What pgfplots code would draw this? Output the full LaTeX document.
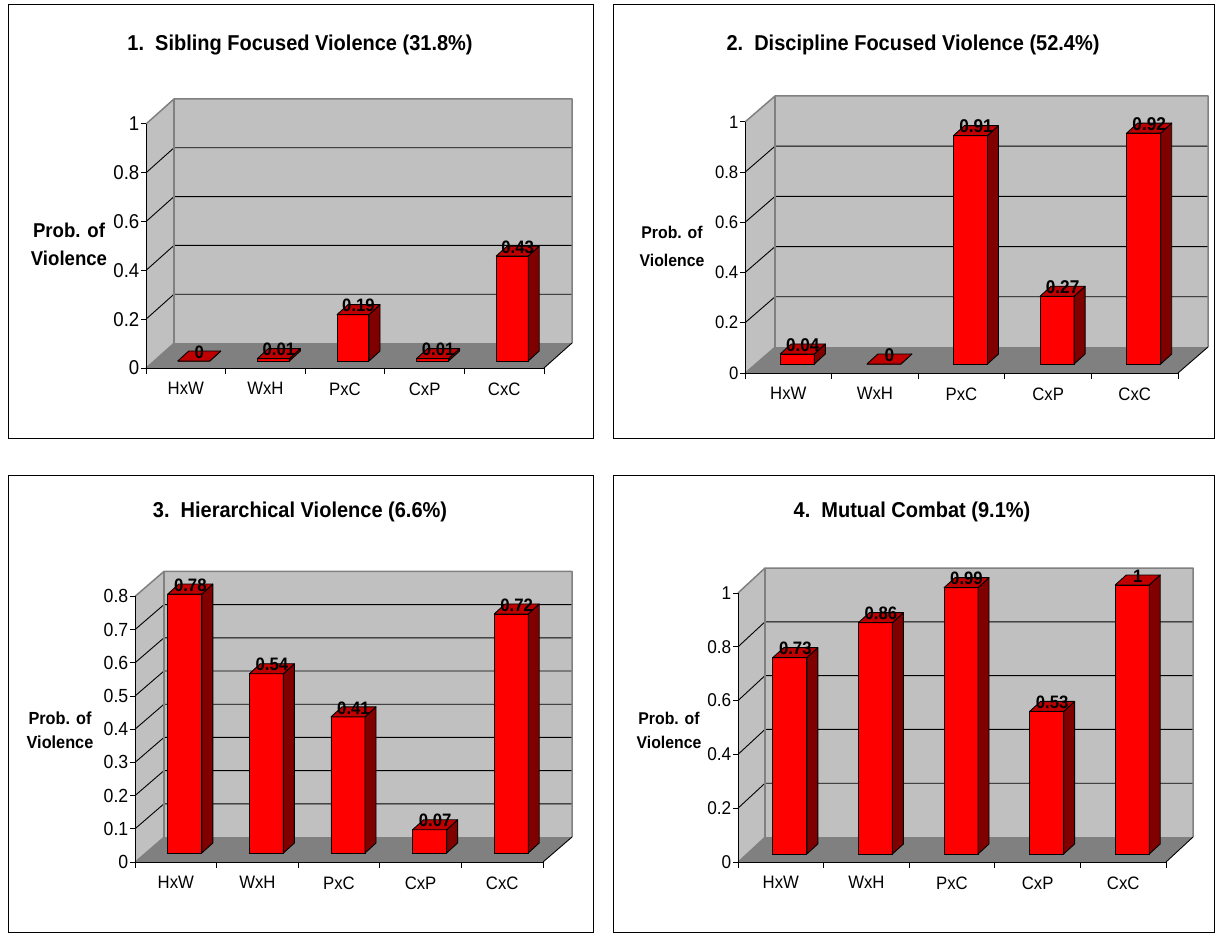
\documentclass[border=0pt]{standalone}
\usepackage{fontspec}
\setmainfont{Liberation Sans}[FakeStretch=0.93]
\usepackage{pgfplots}
\usepackage{pgfplotstable}
\pgfplotsset{compat=1.18}

\definecolor{wallgray}{HTML}{C0C0C0}
\definecolor{floorgray}{HTML}{808080}
\definecolor{edgegray}{HTML}{808080}
\definecolor{barfront}{HTML}{FF0000}
\definecolor{bartop}{HTML}{C00000}
\definecolor{barside}{HTML}{800000}

\newcommand\fs[1]{\fontsize{#1}{#1}\selectfont}

\pgfplotstableread{
x v
0 0
1 0.01
2 0.19
3 0.01
4 0.43
}\tabA
\pgfplotstableread{
x v
0 0.04
1 0
2 0.91
3 0.27
4 0.92
}\tabB
\pgfplotstableread{
x v
0 0.78
1 0.54
2 0.41
3 0.07
4 0.72
}\tabC
\pgfplotstableread{
x v
0 0.73
1 0.86
2 0.99
3 0.53
4 1
}\tabD

\pgfplotsset{
  excel3d/.style={
    anchor=south west,
    xmin=-0.5, xmax=4.5, ymin=0,
    enlargelimits=false,
    clip=false,
    axis on top,
    axis x line*=bottom,
    axis y line*=left,
    axis line style={black, line width=1pt},
    x axis line style={-},
    y axis line style={-},
    xtick={0,1,2,3,4},
    xticklabels={HxW,WxH,PxC,CxP,CxC},
    minor xtick={-0.5,0.5,1.5,2.5,3.5,4.5},
    major x tick style={draw=none},
    minor x tick style={black, line width=1pt},
    y tick style={black, line width=1pt},
    tick align=outside,
    major tick length=5pt,
    minor tick length=6pt,
    xticklabel style={yshift=-6pt, font=\fs{18}},
    yticklabel style={inner sep=1.5pt},
    /pgf/number format/assume math mode=true,
  },
}

\newcommand\walls[1]{%
  \fill[wallgray] (axis cs:-0.5,0) -- ([shift={(\DX,\DY)}]axis cs:-0.5,0)
     -- ([shift={(\DX,\DY)}]axis cs:-0.5,\YM) -- (axis cs:-0.5,\YM) -- cycle;
  \fill[wallgray] ([shift={(\DX,\DY)}]axis cs:-0.5,0) rectangle ([shift={(\DX,\DY)}]axis cs:4.5,\YM);
  \fill[floorgray] (axis cs:-0.5,0) -- (axis cs:4.5,0) -- ([shift={(\DX,\DY)}]axis cs:4.5,0) -- ([shift={(\DX,\DY)}]axis cs:-0.5,0) -- cycle;
  \pgfplotsinvokeforeach{#1}{%
    \draw[black, line width=0.9pt] (axis cs:-0.5,##1) -- ([shift={(\DX,\DY)}]axis cs:-0.5,##1) -- ([shift={(\DX,\DY)}]axis cs:4.5,##1);
  }
  \draw[edgegray, line width=1.5pt, line join=round] (axis cs:-0.5,\YM) -- ([shift={(\DX,\DY)}]axis cs:-0.5,\YM) -- ([shift={(\DX,\DY)}]axis cs:4.5,\YM) -- ([shift={(\DX,\DY)}]axis cs:4.5,0);
  \draw[edgegray, line width=1.5pt] ([shift={(\DX,\DY)}]axis cs:-0.5,0) -- ([shift={(\DX,\DY)}]axis cs:-0.5,\YM);
  \draw[edgegray, line width=1pt] (axis cs:-0.5,0) -- ([shift={(\DX,\DY)}]axis cs:-0.5,0);
  \draw[black, line width=0.9pt] (axis cs:4.5,0) -- ([shift={(\DX,\DY)}]axis cs:4.5,0);
}

\newcommand\bars[1]{%
  \addplot[ybar, bar width=\BW, bar shift=0pt, fill=barfront, draw=black, line width=0.9pt, xshift=\FX, yshift=\FY] table[x=x,y=v]{#1};
  \addplot[scatter, only marks, mark=*, mark size=0pt, mark options={draw=none,fill=none},
    point meta=explicit symbolic,
    scatter/@pre marker code/.code={%
      \edef\barv{\pgfplotspointmeta}%
      \pgfmathsetlengthmacro\barhh{\barv*\YU}%
      \filldraw[fill=barside, draw=black, line width=0.9pt, line join=round]
        ({\FX+\HW},\FY) -- ++(\BX,\BY) -- ++(0pt,-\barhh) -- ({\FX+\HW},{\FY-\barhh}) -- cycle;
      \filldraw[fill=bartop, draw=black, line width=0.9pt, line join=round]
        ({\FX-\HW},\FY) -- ++(\BX,\BY) -- ++({2*\HW},0pt) -- ({\FX+\HW},\FY) -- cycle;
      \node[font=\bfseries\fs{\LF}, inner sep=0pt] at ({\FX+0.5*\BX},{\FY+0.9*\BY}) {\barv};
    },
    scatter/@post marker code/.code={}] table[x=x,y=v,meta=v]{#1};
}

\begin{document}
\begin{tikzpicture}
\path[use as bounding box] (0,0) rectangle (1215pt,-933pt);
\draw[black, line width=1pt] (8pt,-5pt) rectangle (593pt,-438pt);
\draw[black, line width=1pt] (613pt,-5pt) rectangle (1214.5pt,-438pt);
\draw[black, line width=1pt] (8pt,-475pt) rectangle (593pt,-932.5pt);
\draw[black, line width=1pt] (613pt,-475pt) rectangle (1214.5pt,-932.5pt);

\node[font=\bfseries\fs{21.5}] at (300pt,-45pt) {1.\ \ Sibling Focused Violence (31.8\%)};
\node[font=\bfseries\fs{21.5}] at (913pt,-45pt) {2.\ \ Discipline Focused Violence (52.4\%)};
\node[font=\bfseries\fs{21.5}] at (300pt,-512pt) {3.\ \ Hierarchical Violence (6.6\%)};
\node[font=\bfseries\fs{21.5}] at (912pt,-512pt) {4.\ \ Mutual Combat (9.1\%)};

\node[font=\bfseries\fontsize{20}{28}\selectfont, align=center] at (69pt,-244pt) {Prob. of\\Violence};
\node[font=\bfseries\fontsize{17}{28}\selectfont, align=center] at (672pt,-246pt) {Prob. of\\Violence};
\node[font=\bfseries\fontsize{17.5}{24}\selectfont, align=center] at (60pt,-730pt) {Prob. of\\Violence};
\node[font=\bfseries\fontsize{17}{24}\selectfont, align=center] at (669pt,-730pt) {Prob. of\\Violence};

% Panel 1
\def\DX{28pt}\def\DY{25pt}\def\YM{1}\def\YU{244pt}
\def\FX{8pt}\def\FY{7pt}\def\BX{11pt}\def\BY{10pt}\def\HW{16pt}\def\BW{0.4}\def\LF{18}
\begin{axis}[excel3d, at={(146pt,-368pt)}, x=79.6pt, y=244pt, ymax=1,
  ytick={0,0.2,0.4,0.6,0.8,1}, yticklabels={0,0.2,0.4,0.6,0.8,1},
  yticklabel style={font=\fs{20}}]
  \walls{0.2,0.4,0.6,0.8}
  \bars{\tabA}
\end{axis}

% Panel 2
\def\DX{30pt}\def\DY{26pt}\def\YM{1}\def\YU{251pt}
\def\FX{9pt}\def\FY{9pt}\def\BX{11pt}\def\BY{10pt}\def\HW{17pt}\def\BW{0.39}\def\LF{18.5}
\begin{axis}[excel3d, at={(745pt,-373pt)}, x=86.6pt, y=251pt, ymax=1,
  ytick={0,0.2,0.4,0.6,0.8,1}, yticklabels={0,0.2,0.4,0.6,0.8,1},
  yticklabel style={font=\fs{18}}]
  \walls{0.2,0.4,0.6,0.8}
  \bars{\tabB}
\end{axis}

% Panel 3
\def\DX{29pt}\def\DY{25pt}\def\YM{0.8}\def\YU{332pt}
\def\FX{9pt}\def\FY{9pt}\def\BX{11pt}\def\BY{10pt}\def\HW{17pt}\def\BW{0.417}\def\LF{18}
\begin{axis}[excel3d, at={(135pt,-862pt)}, x=81.6pt, y=332pt, ymax=0.8,
  ytick={0,0.1,0.2,0.3,0.4,0.5,0.6,0.7,0.8}, yticklabels={0,0.1,0.2,0.3,0.4,0.5,0.6,0.7,0.8},
  yticklabel style={font=\fs{19}}]
  \walls{0.1,0.2,0.3,0.4,0.5,0.6,0.7}
  \bars{\tabC}
\end{axis}

% Panel 4
\def\DX{27pt}\def\DY{25pt}\def\YM{1}\def\YU{269pt}
\def\FX{9pt}\def\FY{8pt}\def\BX{11pt}\def\BY{10pt}\def\HW{17pt}\def\BW{0.397}\def\LF{18}
\begin{axis}[excel3d, at={(738pt,-862pt)}, x=85.6pt, y=269pt, ymax=1,
  ytick={0,0.2,0.4,0.6,0.8,1}, yticklabels={0,0.2,0.4,0.6,0.8,1},
  yticklabel style={font=\fs{18.5}}]
  \walls{0.2,0.4,0.6,0.8}
  \bars{\tabD}
\end{axis}
\end{tikzpicture}
\end{document}
